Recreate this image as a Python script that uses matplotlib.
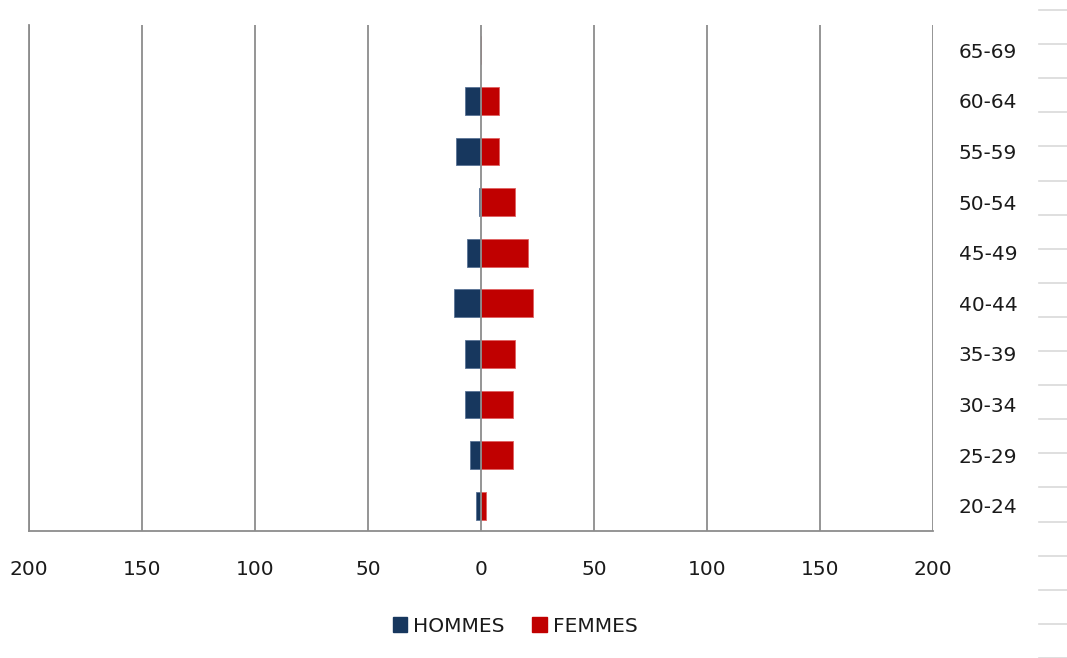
import matplotlib
matplotlib.use("Agg")
import matplotlib.pyplot as plt
from matplotlib.lines import Line2D
from matplotlib.patches import Patch
import numpy as np

categories = ["20-24", "25-29", "30-34", "35-39", "40-44", "45-49",
              "50-54", "55-59", "60-64", "65-69"]
hommes = [2, 5, 7, 7, 12, 6, 1, 11, 7, 0]
femmes = [2, 14, 14, 15, 23, 21, 15, 8, 8, 0]
xticks = [-200, -150, -100, -50, 0, 50, 100, 150, 200]
xticklabels = ["200", "150", "100", "50", "0", "50", "100", "150", "200"]

c_h = "#17375E"
c_f = "#C00000"
grid_c = "#8C8C8C"
txt_c = "#1a1a1a"
fs = 14.5

plt.rcParams['font.family'] = ['DejaVu Sans']

fig = plt.figure(figsize=(10.67, 6.58), dpi=100)
ax = fig.add_axes([29/1067, 1-531/658, (933-29)/1067, (531-25)/658])

y = np.arange(len(categories))
ax.barh(y, [-v for v in hommes], height=0.55, color=c_h, edgecolor="#5a7396",
        linewidth=0.6, zorder=2, label="HOMMES")
ax.barh(y, femmes, height=0.55, color=c_f, edgecolor="#e06060",
        linewidth=0.6, zorder=2, label="FEMMES")

ax.set_xlim(-200, 200)
ax.set_ylim(-0.5, len(categories) - 0.5)
ax.set_xticks(xticks)
ax.set_xticklabels(xticklabels)
ax.set_yticks(y)
ax.set_yticklabels(categories)
ax.yaxis.tick_right()
ax.tick_params(axis='y', length=0, pad=18.5, labelsize=fs, labelcolor=txt_c)
ax.tick_params(axis='x', length=0, pad=21, labelsize=fs, labelcolor=txt_c)

for xv in xticks:
    ax.axvline(xv, color=grid_c, linewidth=1.3, zorder=3 if xv == 0 else 1)

for s in ["top", "right"]:
    ax.spines[s].set_visible(False)
ax.spines["left"].set_color(grid_c)
ax.spines["bottom"].set_color(grid_c)
ax.spines["left"].set_linewidth(1.3)
ax.spines["bottom"].set_linewidth(1.3)

handles = [Patch(facecolor=c_h, edgecolor=c_h), Patch(facecolor=c_f, edgecolor=c_f)]
fig.legend(handles, ["HOMMES", "FEMMES"], loc="center", bbox_to_anchor=(515/1067, 1-626/658),
           ncol=2, frameon=False, fontsize=fs, handlelength=0.7, handleheight=0.7,
           handletextpad=0.3, columnspacing=1.4, labelcolor=txt_c)

# spreadsheet cell borders at the right edge
for i in range(20):
    yy = 10 + i * 34.1
    if yy > 658:
        break
    fig.add_artist(Line2D([1039/1067, 1.0], [1 - yy/658] * 2, color="#D9D9D9",
                          linewidth=1.2, transform=fig.transFigure))

fig.savefig("out.png", dpi=100)
